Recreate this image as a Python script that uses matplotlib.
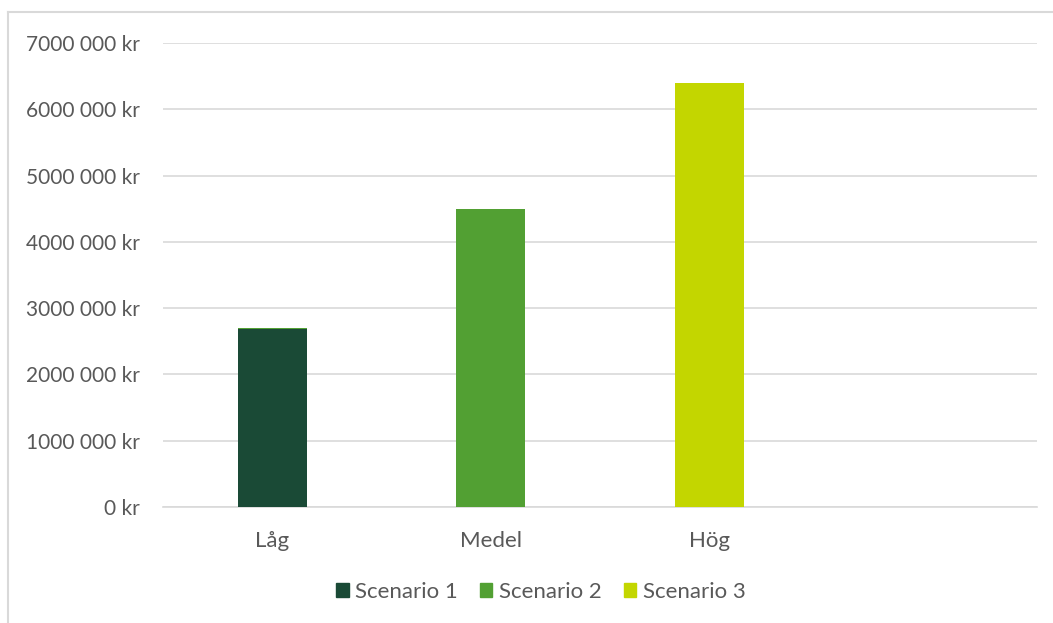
import matplotlib
matplotlib.use("Agg")
import matplotlib.pyplot as plt
from matplotlib.lines import Line2D
from matplotlib.ticker import FuncFormatter

categories = ["Låg", "Medel", "Hög", ""]
series_names = ["Scenario 1", "Scenario 2", "Scenario 3"]
scenario1 = [2690000, 0, 0, 0]
scenario2 = [15000, 4490000, 0, 0]
scenario3 = [0, 0, 6390000, 0]
colors = ["#1a4a36", "#52a033", "#c3d600"]

plt.rcParams['font.family'] = ['Lato', 'DejaVu Sans']
text_color = "#595959"
grid_color = "#d9d9d9"
fs = 16

W, H = 1053, 623
fig = plt.figure(figsize=(W / 100, H / 100), dpi=100)

def fx(px):
    return px / W

def fy(py):
    return 1 - py / H

ax = fig.add_axes([fx(163), fy(507), fx(1037) - fx(163), fy(43) - fy(507)])

x = list(range(len(categories)))
bottom = [0] * len(categories)
for name, vals, c in zip(series_names, [scenario1, scenario2, scenario3], colors):
    ax.bar(x, vals, width=0.317, bottom=bottom, color=c, label=name, zorder=3)
    bottom = [b + v for b, v in zip(bottom, vals)]

ax.set_xlim(-0.5, len(categories) - 0.5)
ax.set_ylim(0, 7000000)
ax.set_yticks(range(0, 7000001, 1000000))

def fmt(v, pos):
    v = int(round(v))
    if v == 0:
        return "0 kr"
    s = str(v)
    head, tail = s[:-6], s[-6:]
    return f"{head}{tail[:3]} {tail[3:]} kr"

ax.yaxis.set_major_formatter(FuncFormatter(fmt))
ax.set_xticks(x)
ax.set_xticklabels(categories)

ax.grid(axis='y', color=grid_color, linewidth=1.2, zorder=0)
for s in ["top", "right", "left"]:
    ax.spines[s].set_visible(False)
ax.spines["bottom"].set_color(grid_color)
ax.spines["bottom"].set_linewidth(1.2)
ax.tick_params(axis='both', length=0, colors=text_color, labelsize=fs)
ax.tick_params(axis='y', pad=17, labelsize=15)
ax.tick_params(axis='x', pad=17)

handles = [plt.Rectangle((0, 0), 1, 1, color=c) for c in colors]
fig.legend(handles, series_names, loc='center', bbox_to_anchor=(fx(541), fy(592)),
           ncol=3, frameon=False, fontsize=fs, labelcolor=text_color,
           handlelength=0.55, handleheight=0.55, handletextpad=0.3, columnspacing=1.0)

# chart area border (top and left visible)
fig.add_artist(Line2D([fx(8), 1], [fy(12), fy(12)], color=grid_color, lw=1.5))
fig.add_artist(Line2D([fx(8), fx(8)], [fy(12), 0], color=grid_color, lw=1.5))

fig.savefig("out.png", dpi=100, facecolor="white")
